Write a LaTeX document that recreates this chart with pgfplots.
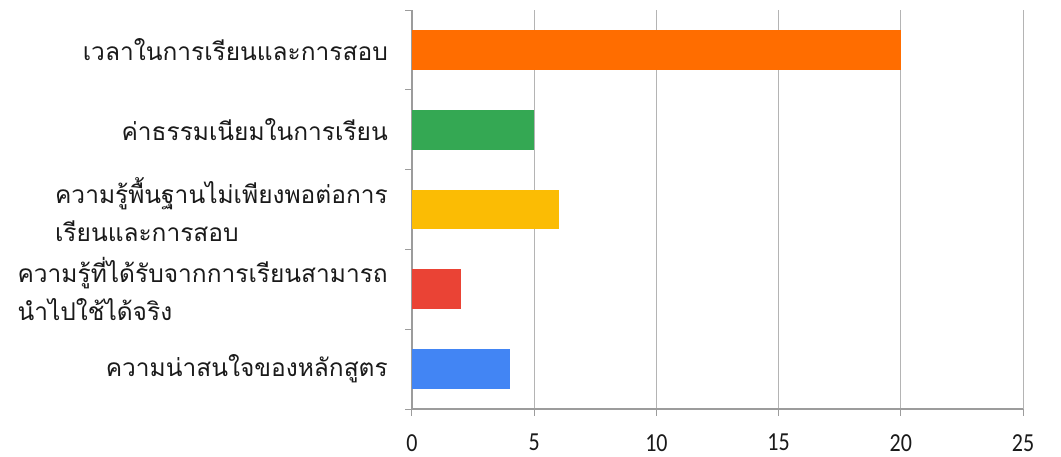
\documentclass[border=0pt]{standalone}
\usepackage{fontspec}
\setmainfont{Carlito}
\newfontfamily\thaifont[Script=Thai]{Loma}
\usepackage{pgfplots}
\pgfplotsset{compat=1.18}
\definecolor{cOrange}{HTML}{FF6D00}
\definecolor{cGreen}{HTML}{34A853}
\definecolor{cYellow}{HTML}{FBBC04}
\definecolor{cRed}{HTML}{EA4335}
\definecolor{cBlue}{HTML}{4285F4}
\definecolor{axisgray}{HTML}{9C9C9C}
\definecolor{gridgray}{HTML}{B4B4B4}
\definecolor{txt}{HTML}{1A1A1A}
\begin{document}
\begin{tikzpicture}
\path[use as bounding box] (0,0) rectangle (1061pt,456pt);
\begin{axis}[
  at={(412pt,47pt)}, anchor=south west,
  scale only axis, width=611pt, height=399pt,
  xmin=0, xmax=25, ymin=-0.5, ymax=4.5,
  axis lines*=left,
  axis line style={draw=axisgray, line width=1.2pt},
  xtick={0,5,...,25},
  minor xtick={0,5,...,25},
  ytick={0,1,2,3,4},
  minor ytick={-0.5,0.5,1.5,2.5,3.5,4.5},
  tick align=outside,
  major tick length=0pt,
  minor tick length=6.5pt,
  tick style={draw=axisgray, line width=1pt},
  xmajorgrids,
  grid style={draw=gridgray, line width=1pt},
  /pgf/number format/assume math mode=true,
  xticklabel={\scalebox{1}[1.18]{\pgfmathprintnumber{\tick}}},
  xticklabel style={anchor=north, inner sep=0pt, yshift=-25pt, font=\fontsize{22}{22}\selectfont, text=txt},
  yticklabel style={anchor=east, inner sep=0pt, xshift=-24pt, align=left, font=\thaifont\fontsize{24.5}{38}\selectfont, text=txt},
  yticklabels={
    {ความน่าสนใจของหลักสูตร},
    {ความรู้ที่ได้รับจากการเรียนสามารถ\\นำไปใช้ได้จริง},
    {ความรู้พื้นฐานไม่เพียงพอต่อการ\\เรียนและการสอบ},
    {ค่าธรรมเนียมในการเรียน},
    {เวลาในการเรียนและการสอบ}
  },
]
\addplot[xbar, bar width=0.5, bar shift=0pt, fill=cBlue, draw=none] coordinates {(4,0)};
\addplot[xbar, bar width=0.5, bar shift=0pt, fill=cRed, draw=none] coordinates {(2,1)};
\addplot[xbar, bar width=0.5, bar shift=0pt, fill=cYellow, draw=none] coordinates {(6,2)};
\addplot[xbar, bar width=0.5, bar shift=0pt, fill=cGreen, draw=none] coordinates {(5,3)};
\addplot[xbar, bar width=0.5, bar shift=0pt, fill=cOrange, draw=none] coordinates {(20,4)};
\end{axis}
\end{tikzpicture}
\end{document}
